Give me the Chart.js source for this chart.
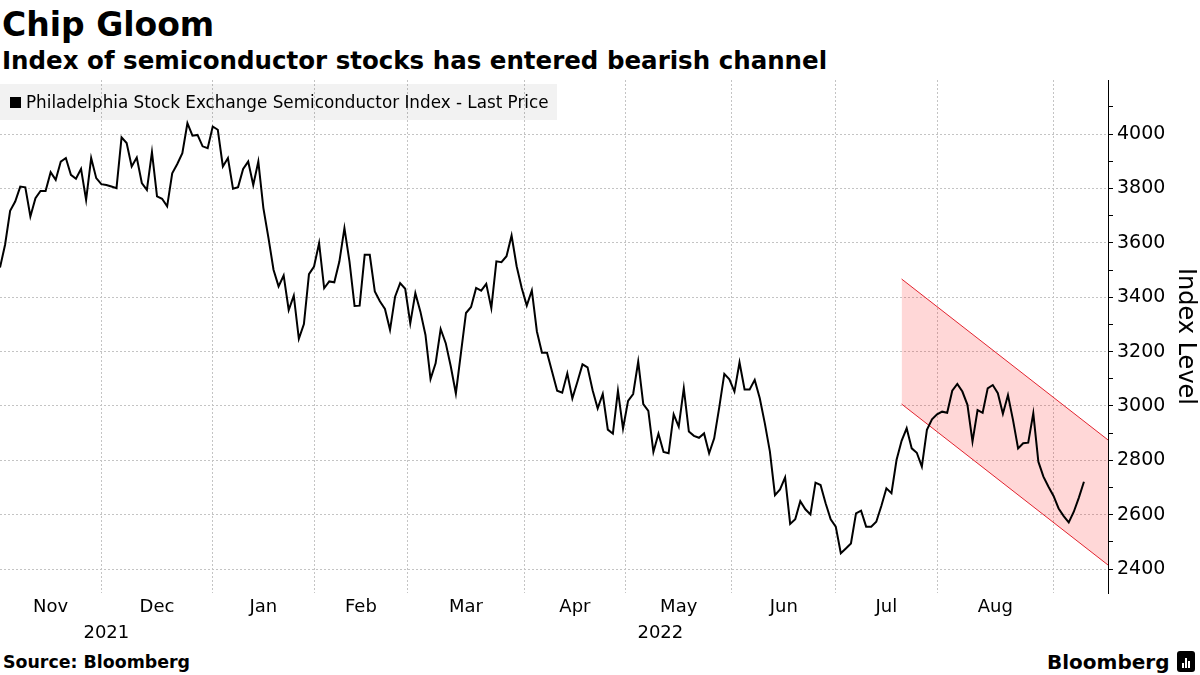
<!DOCTYPE html>
<html>
<head>
<meta charset="utf-8">
<script src="https://cdn.jsdelivr.net/npm/chart.js@4.4.1/dist/chart.umd.min.js"></script>
<style>
    html, body { margin: 0; padding: 0; background: #fff; }
    body { width: 1200px; height: 675px; position: relative; overflow: hidden; font-family: "DejaVu Sans", sans-serif; color: #000; }
    #wrap { position: absolute; left: 0; top: 0; width: 1200px; height: 650px; }
    .titulo { position: absolute; left: 2px; top: 8px; font-size: 33px; font-weight: bold; line-height: 1; white-space: nowrap; }
    .subtitulo { position: absolute; left: 2px; top: 49px; font-size: 24.5px; font-weight: bold; line-height: 1; white-space: nowrap; }
    .leyenda { position: absolute; left: 0; top: 84px; width: 557px; height: 36px; background: rgba(0,0,0,0.05);
               display: flex; align-items: center; font-size: 16.8px; white-space: nowrap; }
    .leyenda .marca { display: inline-block; width: 11px; height: 11px; background: #000; margin: 0 5px 0 10px; }
    .fuente { position: absolute; left: 3px; top: 654px; font-size: 17.4px; font-weight: bold; line-height: 1; }
    .logo { position: absolute; left: 1047px; top: 651px; font-size: 20px; font-weight: bold; line-height: 1; display: flex; align-items: center; }
    .logo .icono { display: inline-block; width: 18px; height: 21px; background: #000; border-radius: 3px; margin-left: 8px; position: relative; }
    .logo .icono span { position: absolute; bottom: 4px; width: 2px; background: #fff; }
</style>
</head>
<body>
<div class="titulo">Chip Gloom</div>
<div class="subtitulo">Index of semiconductor stocks has entered bearish channel</div>
<div id="wrap"><canvas id="graficoSox" width="1200" height="650"></canvas></div>
<div class="leyenda"><span class="marca"></span>Philadelphia Stock Exchange Semiconductor Index - Last Price</div>
<div class="fuente">Source: Bloomberg</div>
<div class="logo">Bloomberg<span class="icono"><span style="left:5px;height:5px"></span><span style="left:8px;height:10px"></span><span style="left:11px;height:7px"></span></span></div>

<script>
// Cierres diarios del indice SOX (uno por dia habil)
const precios = [
    3509, 3593, 3718, 3752, 3807, 3804, 3697, 3764, 3791, 3791, 3860, 3832, 3899, 3912, 3850, 3836,
    3872, 3758, 3912, 3838, 3816, 3813, 3807, 3801, 3988, 3967, 3881, 3914, 3820, 3795, 3934, 3771,
    3762, 3734, 3856, 3890, 3930, 4040, 3994, 3997, 3955, 3948, 4028, 4016,
    3881, 3912, 3799, 3805, 3872, 3899, 3813, 3899, 3728, 3618, 3501, 3440, 3480, 3353, 3406, 3247,
    3301, 3485, 3513, 3599, 3433, 3458, 3455, 3531, 3654, 3531, 3368, 3369, 3556, 3556, 3421, 3385,
    3357, 3280, 3402, 3452, 3431, 3304, 3415, 3347, 3261, 3099, 3157, 3283,
    3231, 3145, 3046, 3194, 3342, 3364, 3434, 3424, 3449, 3360, 3532, 3529, 3551, 3627, 3514, 3434,
    3369, 3425, 3274, 3196, 3196, 3126, 3056, 3049, 3120, 3028, 3089, 3153, 3142, 3058, 2991, 3044,
    2913, 2898, 3056, 2917, 3019, 3044, 3163, 3007, 2982, 2831, 2898, 2831,
    2826, 2969, 2924, 3065, 2906, 2890, 2883, 2899, 2826, 2881, 2995, 3118, 3098, 3053, 3160, 3061,
    3061, 3096, 3028, 2936, 2832, 2672, 2693, 2737, 2566, 2583, 2650, 2620, 2601, 2718, 2709, 2642,
    2583, 2556, 2458, 2476, 2494, 2605, 2615, 2556, 2556, 2574, 2632,
    2697, 2679, 2801, 2872, 2918, 2844, 2828, 2777, 2912, 2951, 2969, 2979, 2975, 3056, 3081, 3053,
    3004, 2869, 2985, 2975, 3065, 3077, 3047, 2971, 3040, 2948, 2844, 2863, 2865, 2973, 2795, 2740,
    2703, 2669, 2623, 2595, 2572, 2611, 2663, 2721
];

// Meses y el dia habil en que empieza cada uno (el ultimo es septiembre)
const meses = ["Nov", "Dec", "Jan", "Feb", "Mar", "Apr", "May", "Jun", "Jul", "Aug"];
const inicioMes = [0, 20, 42, 62, 80.5, 103.5, 123.5, 144.5, 165, 185, 208];
const anios = ["2021", "2022"];
const inicioAnio = [0, 42];

// Canal bajista (dia habil, limite superior, limite inferior)
const canalX = [178, 218.75];
const canalSup = [3467, 2875];
const canalInf = [3007, 2415];

const xMax = 218.75;
const yMin = 2312;
const yMax = 4199;

const rejilla = "#c4c4c4";
const transparente = "rgba(0,0,0,0)";

// ticks del eje x: bordes de mes (con linea) y centros de mes (con texto)
const etiquetasMes = {};
const bordesMes = inicioMes.slice(1);
meses.forEach((m, i) => {
    etiquetasMes[(inicioMes[i] + inicioMes[i + 1]) / 2] = m;
});
const etiquetasAnio = {};
anios.forEach((a, i) => {
    const fin = i + 1 < inicioAnio.length ? inicioAnio[i + 1] : xMax;
    etiquetasAnio[(inicioAnio[i] + fin) / 2] = a;
});

const fuenteEje = { family: "DejaVu Sans", size: 18 };

new Chart(document.getElementById("graficoSox"), {
    type: "line",
    data: {
        datasets: [
            {
                label: "Philadelphia Stock Exchange Semiconductor Index - Last Price",
                data: precios.map((v, i) => ({ x: i, y: v })),
                borderColor: "#000",
                borderWidth: 2,
                pointRadius: 0,
                tension: 0,
                fill: false
            },
            {
                label: "canal superior",
                data: canalX.map((x, i) => ({ x: x, y: canalSup[i] })),
                borderColor: "#e2232e",
                borderWidth: 1,
                pointRadius: 0,
                fill: false
            },
            {
                label: "canal inferior",
                data: canalX.map((x, i) => ({ x: x, y: canalInf[i] })),
                borderColor: "#e2232e",
                borderWidth: 1,
                pointRadius: 0,
                fill: "-1",
                backgroundColor: "rgba(255,0,0,0.155)"
            }
        ]
    },
    options: {
        responsive: false,
        animation: false,
        devicePixelRatio: 1,
        layout: { padding: { top: 80, left: 0, right: 0, bottom: 0 } },
        plugins: {
            legend: { display: false },
            tooltip: { enabled: false },
            title: { display: false }
        },
        scales: {
            x: {
                type: "linear",
                position: "bottom",
                weight: 0,
                min: 0,
                max: xMax,
                afterBuildTicks: s => {
                    const valores = bordesMes.concat(Object.keys(etiquetasMes).map(Number));
                    s.ticks = valores.sort((a, b) => a - b).map(v => ({ value: v }));
                },
                afterFit: s => { s.height = 30; },
                ticks: {
                    autoSkip: false,
                    maxRotation: 0,
                    minRotation: 0,
                    padding: 4,
                    color: "#000",
                    font: fuenteEje,
                    callback: v => etiquetasMes[v] || ""
                },
                grid: {
                    drawTicks: false,
                    color: ctx => (ctx.tick && bordesMes.includes(ctx.tick.value)) ? rejilla : transparente
                },
                border: { display: false, dash: [2, 2] }
            },
            anio: {
                type: "linear",
                position: "bottom",
                weight: 1,
                min: 0,
                max: xMax,
                afterBuildTicks: s => {
                    s.ticks = Object.keys(etiquetasAnio).map(Number).map(v => ({ value: v }));
                },
                afterFit: s => { s.height = 27; },
                ticks: {
                    autoSkip: false,
                    maxRotation: 0,
                    minRotation: 0,
                    padding: 0,
                    color: "#000",
                    font: fuenteEje,
                    callback: v => etiquetasAnio[v] || ""
                },
                grid: { display: false, drawTicks: false },
                border: { display: false }
            },
            y: {
                type: "linear",
                position: "right",
                min: yMin,
                max: yMax,
                afterFit: s => { s.width = 92; },
                ticks: {
                    stepSize: 100,
                    includeBounds: false,
                    padding: 4,
                    color: "#000",
                    font: { family: "DejaVu Sans", size: 19 },
                    callback: v => (v % 200 === 0 ? v : "")
                },
                grid: {
                    tickLength: 5,
                    color: ctx => (ctx.tick && ctx.tick.value % 200 === 0) ? rejilla : transparente,
                    tickColor: "#000"
                },
                border: { display: true, color: "#000", width: 1, dash: [2, 2] },
                title: {
                    display: true,
                    text: "Index Level",
                    color: "#000",
                    font: { family: "DejaVu Sans", size: 24 },
                    padding: { top: 0, bottom: 0 }
                }
            }
        }
    }
});
</script>
</body>
</html>
